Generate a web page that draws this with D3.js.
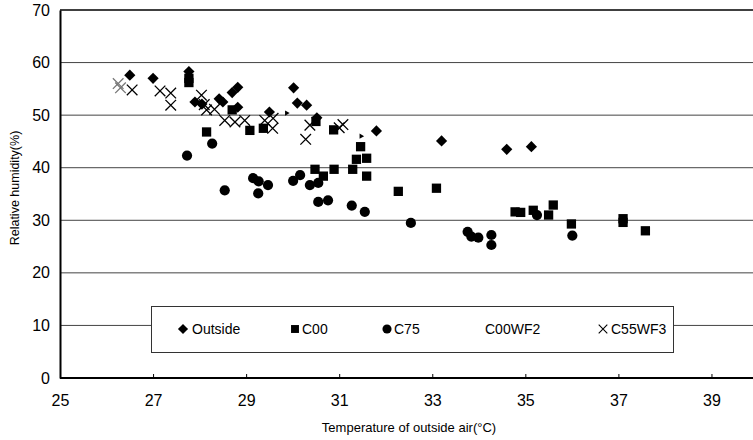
<!DOCTYPE html>
<html><head><meta charset="utf-8">
<script src="https://cdn.jsdelivr.net/npm/d3@7"></script>
<style>
html,body{margin:0;padding:0;background:#fff;overflow:hidden;}
text{font-family:"Liberation Sans",Arial,sans-serif;fill:#000;}
</style></head>
<body><svg id="c" width="753" height="440"></svg>
<script>
// ---- data (temperature °C, relative humidity %) ----
const outside = [[26.5,57.6],[27.0,57.0],[27.77,58.3],[27.9,52.5],[28.05,52.1],[28.42,53.1],[28.5,52.5],[28.7,54.3],[28.82,55.3],[28.82,51.5],[29.5,50.6],[30.02,55.2],[30.1,52.3],[30.3,51.9],[30.52,49.5],[31.8,47.0],[33.2,45.1],[34.6,43.5],[35.13,44.0]];
const c00 = [[27.77,57.0],[27.77,56.2],[28.15,46.8],[28.7,51.0],[29.08,47.1],[29.37,47.5],[30.5,48.8],[30.48,39.7],[30.66,38.4],[30.88,47.2],[30.89,39.7],[31.29,39.7],[31.37,41.6],[31.46,44.0],[31.59,41.8],[31.59,38.4],[32.27,35.5],[33.09,36.1],[34.78,31.6],[34.9,31.5],[35.17,31.9],[35.5,31.0],[35.6,32.9],[35.99,29.3],[37.1,30.3],[37.1,29.6],[37.58,28.0]];
const c75 = [[27.73,42.3],[28.27,44.6],[28.54,35.7],[29.15,38.0],[29.27,37.4],[29.26,35.1],[29.47,36.7],[30.01,37.5],[30.16,38.6],[30.37,36.7],[30.55,37.1],[30.55,33.5],[30.76,33.8],[31.27,32.8],[31.55,31.6],[32.54,29.5],[33.76,27.8],[33.84,26.9],[33.99,26.7],[34.27,27.2],[34.27,25.3],[35.25,31.0],[36.01,27.1]];
const c00wf2 = [[29.87,50.4],[31.47,46.0]];
const c55wf3 = [[26.25,56.0],[26.3,55.2],[26.55,54.8],[27.15,54.6],[27.38,54.2],[27.38,51.9],[28.04,53.8],[28.1,52.0],[28.15,51.0],[28.32,51.1],[28.54,49.0],[28.76,48.7],[28.97,49.0],[29.4,49.0],[29.58,49.4],[29.57,47.5],[30.28,45.4],[30.37,48.1],[31.0,47.6],[31.08,48.2]];
const xTicks = [25,27,29,31,33,35,37,39];
const yTicks = [0,10,20,30,40,50,60,70];
const legendNames = ["Outside","C00","C75","C00WF2","C55WF3"];

const svg = d3.select("#c");
const x = d3.scaleLinear().domain([25,40]).range([60,758]);
const y = d3.scaleLinear().domain([0,70]).range([378,10]);

// gridlines
svg.append("g").selectAll("line").data(yTicks.filter(v=>v>0)).join("line")
  .attr("x1",x(25)).attr("x2",753).attr("y1",d=>y(d)).attr("y2",d=>y(d))
  .attr("stroke",d=>d===70?"#000":"#444").attr("stroke-width",d=>d===70?1.5:1);

// axes
const gx = svg.append("g").attr("transform",`translate(0,${y(0)})`)
  .call(d3.axisBottom(x).tickValues(xTicks).tickSize(-4).tickPadding(17).tickFormat(d3.format("d")));
gx.select(".domain").attr("stroke","#000").attr("stroke-width",2).attr("d",`M${x(25)},0H753`);
gx.selectAll(".tick line").attr("stroke","#000");
gx.selectAll("text").style("font-size","16px").attr("fill","#000");

const gy = svg.append("g").attr("transform",`translate(${x(25)},0)`)
  .call(d3.axisLeft(y).tickValues(yTicks).tickSize(0).tickPadding(10));
gy.select(".domain").attr("stroke","#000").attr("stroke-width",2);
gy.selectAll("text").style("font-size","16px").attr("fill","#000");

// titles
svg.append("text").attr("x",409).attr("y",432).attr("text-anchor","middle")
  .style("font-size","13px").text("Temperature of outside air(°C)");
svg.append("text").attr("transform","translate(19,188) rotate(-90)").attr("text-anchor","middle")
  .style("font-size","12.5px").text("Relative humidity(%)");

// marker symbols
const sym = {
  diamond: d3.symbol().type(d3.symbolDiamond2).size(80),
  square: d3.symbol().type(d3.symbolSquare2).size(110),
  circle: d3.symbol().type(d3.symbolCircle).size(82),
  cross: d3.symbol().type(d3.symbolX).size(75),
  flag: d3.symbol().type(d3.symbolTriangle2).size(20)
};
const series = [
  {data:c00wf2, s:sym.flag, fill:"#000", stroke:"none", rot:-30},
  {data:c55wf3, s:sym.cross, fill:"none", stroke:"#000", rot:0},
  {data:c75, s:sym.circle, fill:"#000", stroke:"none", rot:0},
  {data:c00, s:sym.square, fill:"#000", stroke:"none", rot:0},
  {data:outside, s:sym.diamond, fill:"#000", stroke:"none", rot:0}
];
series.forEach(se=>{
  svg.append("g").selectAll("path").data(se.data).join("path")
    .attr("d",se.s)
    .attr("transform",d=>`translate(${x(d[0])},${y(d[1])}) rotate(${se.rot})`)
    .attr("fill",se.fill).attr("stroke-width",1.3)
    .attr("stroke",(d,i)=> se.stroke==="none"?"none":(se.data===c55wf3 && i<2?"#777":se.stroke));
});

// legend
const lg = svg.append("g");
lg.append("rect").attr("x",151.5).attr("y",306.5).attr("width",522).attr("height",46)
  .attr("fill","#fff").attr("stroke","#333").attr("stroke-width",1);
const legendItems = [
  {name:legendNames[0], mx:183, tx:192, s:d3.symbol().type(d3.symbolDiamond2).size(65), fill:"#000", stroke:"none"},
  {name:legendNames[1], mx:295, tx:302, s:d3.symbol().type(d3.symbolSquare2).size(80), fill:"#000", stroke:"none"},
  {name:legendNames[2], mx:387, tx:394, s:d3.symbol().type(d3.symbolCircle).size(65), fill:"#000", stroke:"none"},
  {name:legendNames[3], mx:null, tx:485, s:null},
  {name:legendNames[4], mx:603, tx:611, s:d3.symbol().type(d3.symbolX).size(50), fill:"none", stroke:"#000"}
];
legendItems.forEach(it=>{
  if(it.s) lg.append("path").attr("d",it.s).attr("transform",`translate(${it.mx},329)`)
    .attr("fill",it.fill).attr("stroke",it.stroke).attr("stroke-width",1.1);
  lg.append("text").attr("x",it.tx).attr("y",334).style("font-size","14px").text(it.name);
});
</script></body></html>
